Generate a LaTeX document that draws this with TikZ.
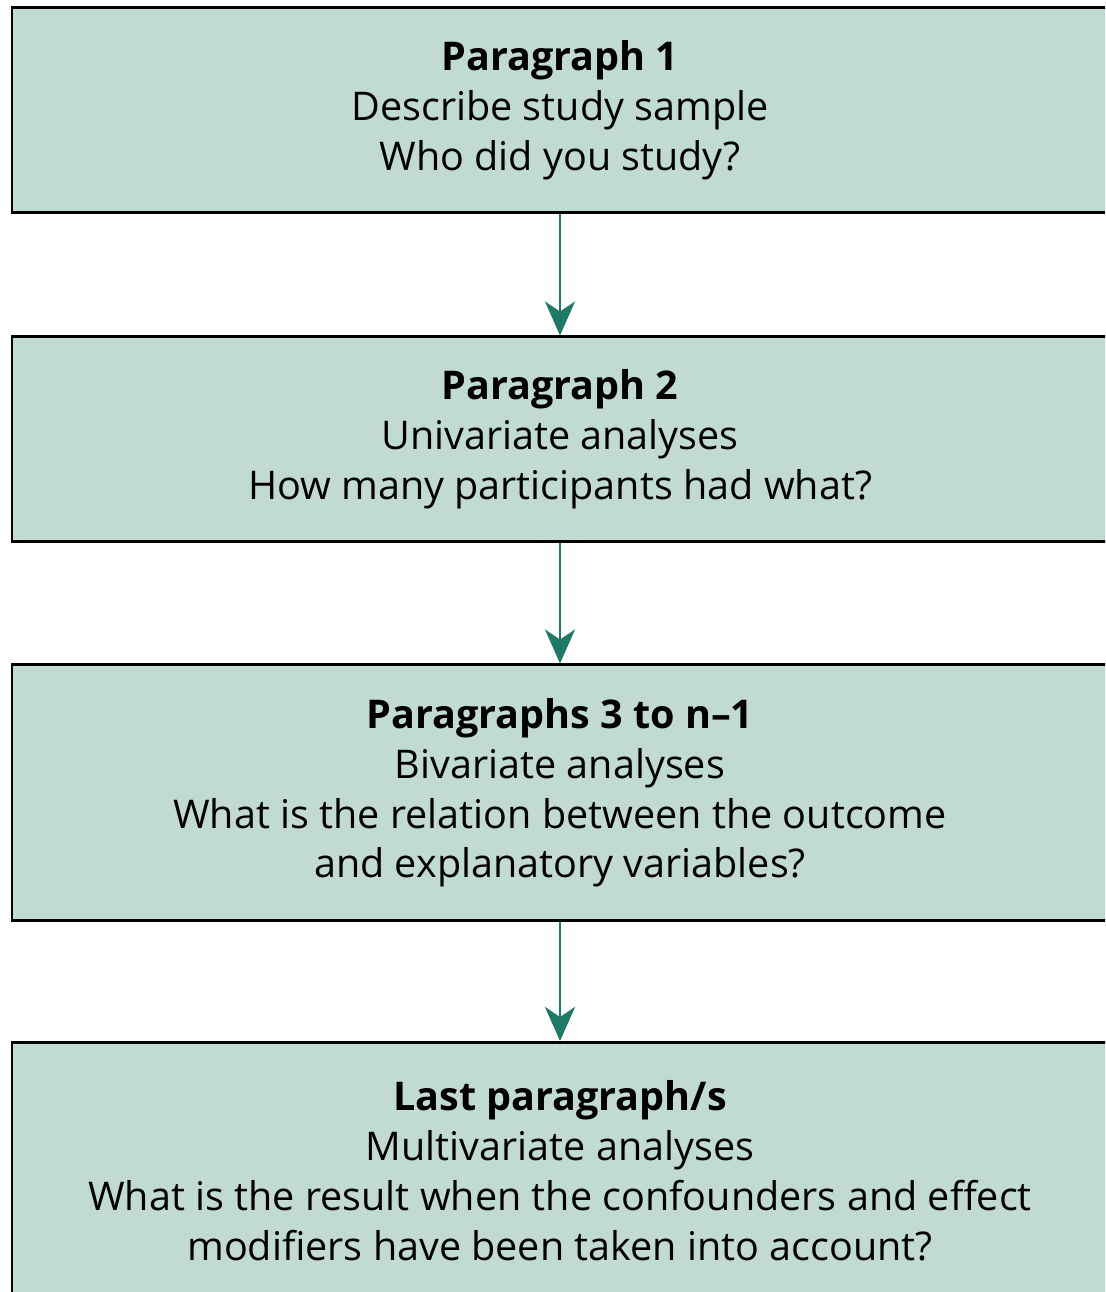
\documentclass[tikz,border=0pt]{standalone}
\usepackage{fontspec}
\setmainfont{Open Sans}
\usetikzlibrary{positioning,arrows.meta}

\definecolor{boxfill}{RGB}{193,219,211}
\definecolor{arrowgreen}{RGB}{31,122,99}

\tikzset{
    parabox/.style={draw=black, line width=1.7pt, fill=boxfill,
        minimum width=21.92cm, align=center,
        font=\fontsize{22.5}{28.45}\selectfont},
    flowarrow/.style={draw=arrowgreen, line width=1.6pt,
        -{Stealth[length=0.68cm,width=0.6cm,inset=0.2cm]}}
}

\begin{document}
\begin{tikzpicture}
            \useasboundingbox (0,0) rectangle (22.1,-25.84);
            \clip (0,0) rectangle (22.1,-25.84);
            \node[parabox, minimum height=4.10cm] (par1) at (11.2,-2.2)
                {\textbf{Paragraph 1}\\Describe study sample\\Who did you study?};
            \node[parabox, minimum height=4.10cm, below=2.43cm of par1] (par2)
                {\textbf{Paragraph 2}\\Univariate analyses\\How many participants had what?};
            \node[parabox, minimum height=5.11cm, below=2.40cm of par2] (par3)
                {\textbf{Paragraphs 3 to n--1}\\Bivariate analyses\\What is the relation between the outcome\\and explanatory variables?};
            \node[parabox, minimum height=5.14cm, below=2.38cm of par3] (parlast)
                {\textbf{Last paragraph/s}\\Multivariate analyses\\What is the result when the confounders and effect\\modifiers have been taken into account?};
            \draw[flowarrow] (par1) -- (par2);
            \draw[flowarrow] (par2) -- (par3);
            \draw[flowarrow] (par3) -- (parlast);
        \end{tikzpicture}
\end{document}
